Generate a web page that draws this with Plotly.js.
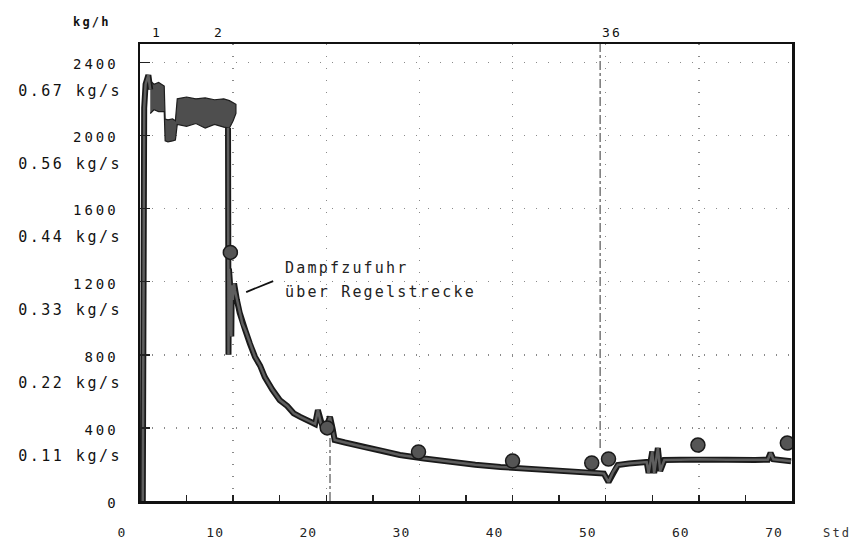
<!DOCTYPE html>
<html>
<head>
<meta charset="utf-8">
<script src="https://cdn.plot.ly/plotly-3.0.1.min.js"></script>
<style>
  html, body { margin: 0; padding: 0; background: #fff; }
  #chart { width: 862px; height: 549px; }
  .ytick text { letter-spacing: 3px; }
  .y2tick text { letter-spacing: 2.5px; }
  .xtick text { letter-spacing: 1px; }
  .annotation-text { letter-spacing: 2.2px; }
</style>
</head>
<body>
<div id="chart"></div>
<script>
// ---- data (hours vs. steam flow kg/h) ----
const riseHours = [0.3, 0.35, 0.45, 0.6, 0.9, 1.1];
const riseFlow = [0, 1500, 2150, 2280, 2330, 2250];

const decayHours = [9.45, 9.47, 9.5, 9.55, 9.65, 9.7, 9.8, 9.85, 9.95, 10.1, 10.2, 10.4, 10.7, 11.0, 11.3, 11.8, 12.35,
  12.9, 13.4, 14.2, 15.0, 15.8, 16.5, 17.2, 18.0, 18.8, 19.1, 19.4, 19.7, 20.1, 20.4, 20.7, 20.9,
  22.0, 24.0, 26.0, 27.9, 30.5, 33.3, 36.0, 38.7, 41.5, 44.0, 47.3, 49.1, 49.8, 50.3, 50.8, 51.3,
  52.5, 54.4, 54.6, 55.0, 55.2, 55.6, 55.85, 56.3, 58.0, 60.0, 63.0, 66.0, 67.4, 67.7, 68.0, 69.9];
const decayFlow = [2040, 1300, 800, 1270, 1200, 1160, 900, 1180, 1100, 1190, 1150, 1100, 1030, 970, 935, 860, 788,
  740, 678, 610, 552, 520, 480, 460, 440, 421, 498, 430, 389, 420, 460, 390, 334,
  320, 295, 275, 252, 232, 213, 198, 186, 178, 170, 159, 153, 150, 104, 160, 197,
  205, 213, 153, 270, 153, 290, 165, 224, 226, 228, 226, 224, 226, 263, 228, 218];

const bandHours = [1.1, 1.5, 2.0, 2.6, 2.7, 3.0, 3.5, 3.8, 4.0, 5.0, 6.0, 7.0, 8.0, 9.0, 9.6, 10.0, 10.3];
const bandUpper = [2300, 2280, 2290, 2270, 2090, 2085, 2090, 2080, 2200, 2210, 2200, 2205, 2195, 2200, 2190, 2180, 2170];
const bandLower = [2120, 2140, 2130, 2130, 1970, 1965, 1970, 1975, 2060, 2050, 2065, 2040, 2060, 2045, 2040, 2080, 2120];

const sampleHours = [9.7, 20.1, 29.9, 40.0, 48.5, 50.3, 59.9, 69.5];
const sampleFlow = [1360, 400, 268, 219, 208, 230, 306, 317];

const markLineHours = [20.4, 49.4];
const markLineFrom = [0, 290];
const markLineTo = [360, 2500];

const eventHours = [1.8, 8.5, 50.7];
const eventLabels = ['1', '2', '36'];

const xTickVals = [0, 10, 20, 30, 40, 50, 60, 70];
const xTickText = ['0', '10', '20', '30', '40', '50', '60', '70'];
const yTickVals = [0, 400, 800, 1200, 1600, 2000, 2400];
const yTickText = ['0', '400', '800', '1200', '1600', '2000', '2400'];
const kgsTickVals = [400, 800, 1200, 1600, 2000, 2400];
const kgsTickText = ['0.11 kg/s', '0.22 kg/s', '0.33 kg/s', '0.44 kg/s', '0.56 kg/s', '0.67 kg/s'];

const noteLines = ['Dampfzufuhr', 'über Regelstrecke'];
const noteHour = 15.4;
const noteFlow = [1275, 1143];

// ---- traces ----
const bandX = bandHours.concat(bandHours.slice().reverse());
const bandY = bandUpper.concat(bandLower.slice().reverse());

const traces = [];
markLineHours.forEach((h, i) => {
  traces.push({ x: [h, h], y: [markLineFrom[i], markLineTo[i]], type: 'scatter', mode: 'lines',
    line: { color: '#555', width: 1.2, dash: 'dashdot' }, showlegend: false, hoverinfo: 'skip' });
});
traces.push({ x: bandX, y: bandY, type: 'scatter', mode: 'lines', fill: 'toself',
  fillcolor: '#4e4e4e', line: { color: '#1e1e1e', width: 1.2 }, showlegend: false });
[[riseHours, riseFlow], [decayHours, decayFlow]].forEach(([hx, fy]) => {
  traces.push({ x: hx, y: fy, type: 'scatter', mode: 'lines',
    line: { color: '#1a1a1a', width: 6 }, showlegend: false });
  traces.push({ x: hx, y: fy, type: 'scatter', mode: 'lines',
    line: { color: '#5e5e5e', width: 2.5 }, showlegend: false });
});
traces.push({ x: sampleHours, y: sampleFlow, type: 'scatter', mode: 'markers',
  marker: { size: 14, color: '#555', line: { color: '#1a1a1a', width: 1.5 } }, showlegend: false });
// second axis just for the kg/s labels
traces.push({ x: [0], y: [0], yaxis: 'y2', type: 'scatter', mode: 'markers',
  marker: { opacity: 0 }, showlegend: false, hoverinfo: 'skip' });

const mono = 'DejaVu Sans Mono, Liberation Mono, monospace';

const annotations = [];
eventHours.forEach((h, i) => {
  annotations.push({ x: h, xref: 'x', y: 1.026, yref: 'paper', text: eventLabels[i], showarrow: false,
    font: { family: mono, size: 13, color: '#111' }, xanchor: 'center', yanchor: 'middle' });
});
noteLines.forEach((t, i) => {
  annotations.push({ x: noteHour, xref: 'x', y: noteFlow[i], yref: 'y', text: t, showarrow: false,
    font: { family: mono, size: 15, color: '#222' }, xanchor: 'left', yanchor: 'middle' });
});
annotations.push({ x: -0.074, xref: 'paper', y: 1.048, yref: 'paper', text: 'kg/h', showarrow: false,
  font: { family: mono, size: 12, color: '#111', weight: 'bold' }, xanchor: 'center', yanchor: 'middle' });
annotations.push({ x: 1.069, xref: 'paper', y: -0.07, yref: 'paper', text: 'Std', showarrow: false,
  font: { family: mono, size: 12, color: '#333' }, xanchor: 'center', yanchor: 'middle' });

const layout = {
  width: 862, height: 549,
  margin: { l: 140, r: 70, t: 44, b: 48 },
  paper_bgcolor: '#fff', plot_bgcolor: '#fff',
  showlegend: false,
  xaxis: {
    range: [0, 70], tickvals: xTickVals, ticktext: xTickText,
    ticks: 'inside', ticklen: 6, tickwidth: 1.5, tickcolor: '#222',
    minor: { ticks: 'inside', dtick: 5, tick0: 0, ticklen: 6, tickwidth: 1.5, tickcolor: '#222', showgrid: false },
    showline: true, linecolor: '#111', linewidth: 2.5, mirror: true,
    showgrid: true, gridcolor: '#8a8a8a', gridwidth: 1.5, griddash: '1px,11px',
    zeroline: false,
    tickfont: { family: mono, size: 13, color: '#222' },
    ticklabelshift: -18, ticklabelstandoff: 18
  },
  yaxis: {
    range: [0, 2500], tickvals: yTickVals, ticktext: yTickText,
    ticks: 'inside', ticklen: 10, tickwidth: 1.5, tickcolor: '#222',
    showline: true, linecolor: '#111', linewidth: 2.5, mirror: true,
    showgrid: true, gridcolor: '#8a8a8a', gridwidth: 1.5, griddash: '1px,11px',
    zeroline: false,
    tickfont: { family: mono, size: 14, color: '#111' },
    ticklabelshift: 2, ticklabelstandoff: 16
  },
  yaxis2: {
    range: [0, 2500], overlaying: 'y', side: 'left', anchor: 'x',
    tickvals: kgsTickVals, ticktext: kgsTickText,
    ticks: '', showline: false, showgrid: false, zeroline: false,
    tickfont: { family: mono, size: 15, color: '#111' },
    ticklabelshift: 28, ticklabelstandoff: 17
  },
  shapes: [
    { type: 'line', xref: 'x', yref: 'y', x0: 11.4, y0: 1143, x1: 14.3, y1: 1203,
      line: { color: '#111', width: 1.8 } }
  ],
  annotations: annotations
};

Plotly.newPlot('chart', traces, layout, { staticPlot: true, displayModeBar: false });
</script>
</body>
</html>
